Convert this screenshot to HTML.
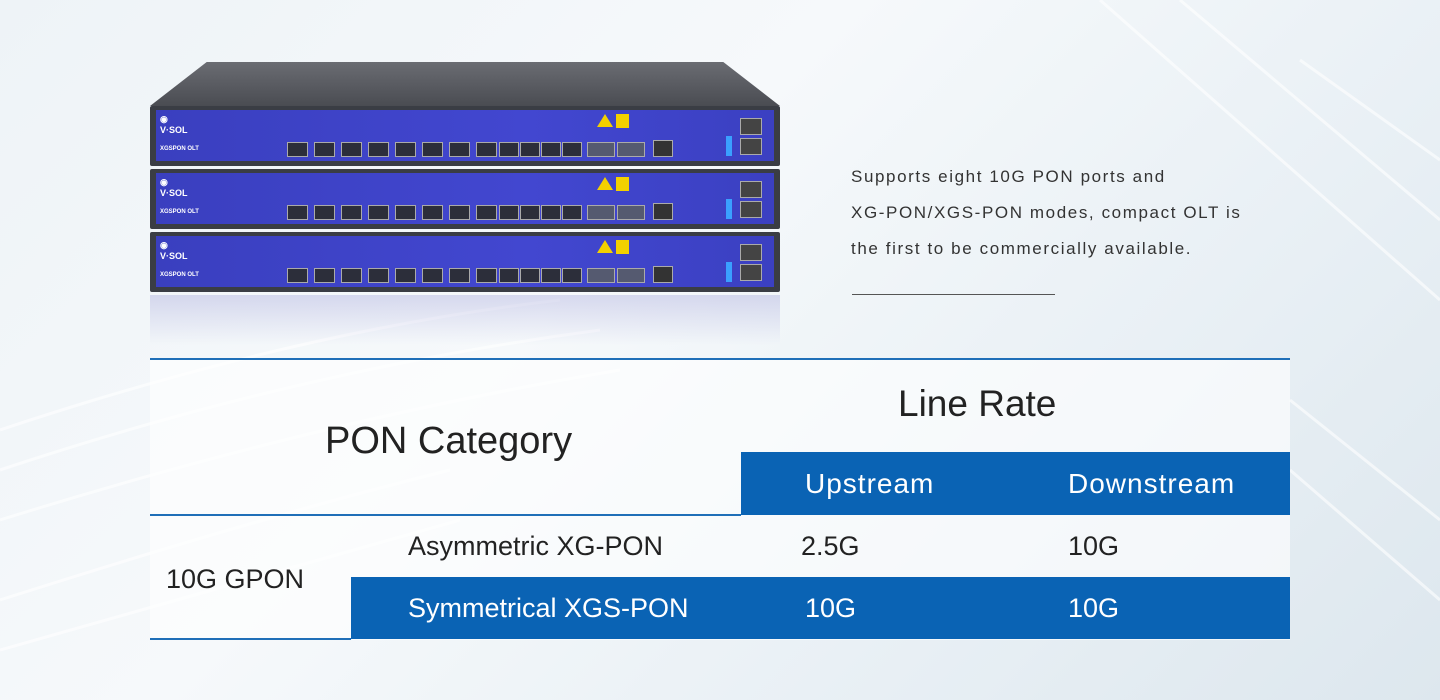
<!DOCTYPE html>
<html><head><meta charset="utf-8"><style>
*{margin:0;padding:0;box-sizing:border-box}
body{width:1440px;height:700px;overflow:hidden;position:relative;font-family:"Liberation Sans",sans-serif;
background:linear-gradient(135deg,#eef3f7 0%,#f6f9fb 40%,#e9f0f5 70%,#dde7ee 100%);}
.abs{position:absolute}
.unit{position:absolute;left:150px;width:630px;height:60px;background:#3a3d44;border-radius:2px}
.face{position:absolute;left:6px;top:4px;right:6px;bottom:5px;background:linear-gradient(90deg,#3a3fbf,#4247d0 60%,#3b40c2);}
.t{position:absolute;color:#222;white-space:nowrap}
.w{color:#fff}
</style></head><body>
<svg class="abs" style="left:0;top:0" width="1440" height="700">
<g fill="none" stroke="#ffffff" stroke-opacity="0.6" stroke-width="3">
<path d="M0 430 Q300 330 560 300"/><path d="M0 470 Q300 370 600 330"/><path d="M0 520 Q320 420 620 370"/>
<path d="M0 600 Q250 520 450 470"/><path d="M0 650 Q250 580 460 520"/>
<path d="M1100 0 L1440 300"/><path d="M1180 0 L1440 220"/><path d="M1300 60 L1440 160"/>
<path d="M1290 400 L1440 520"/><path d="M1290 470 L1440 600"/>
</g></svg>
<div class="abs" style="left:150px;top:62px;width:630px;height:44px;background:linear-gradient(#6a6c72,#4a4c52);clip-path:polygon(9% 0,91% 0,100% 100%,0 100%)"></div>
<div class="abs" style="left:150px;top:295px;width:630px;height:50px;background:linear-gradient(rgba(120,120,200,0.25),rgba(255,255,255,0))"></div>
<div class="unit" style="top:106px"><div class="face"></div></div>
<div class="unit" style="top:169px"><div class="face"></div></div>
<div class="unit" style="top:232px"><div class="face"></div></div>
<div id="ports"></div>
<script>
var h='';[106,169,232].forEach(function(y){
h+='<div class="t w" style="left:160px;top:'+(y+8)+'px;font-size:9px;font-weight:bold">◉<br>V·SOL</div>';
h+='<div class="t w" style="left:160px;top:'+(y+40)+'px;font-size:6px;font-weight:bold">XGSPON OLT</div>';
for(var i=0;i<8;i++)h+='<div class="abs" style="left:'+(287+i*27)+'px;top:'+(y+36)+'px;width:21px;height:15px;background:#2c2e3a;border:1px solid #aaa"></div>';
for(var i=0;i<4;i++)h+='<div class="abs" style="left:'+(499+i*21)+'px;top:'+(y+36)+'px;width:20px;height:15px;background:#2c2e3a;border:1px solid #aaa"></div>';
for(var i=0;i<2;i++)h+='<div class="abs" style="left:'+(587+i*30)+'px;top:'+(y+36)+'px;width:28px;height:15px;background:#555a70;border:1px solid #aaa"></div>';
h+='<div class="abs" style="left:597px;top:'+(y+8)+'px;width:0;height:0;border-left:8px solid transparent;border-right:8px solid transparent;border-bottom:13px solid #f3d000"></div>';
h+='<div class="abs" style="left:616px;top:'+(y+8)+'px;width:13px;height:14px;background:#f3d000"></div>';
h+='<div class="abs" style="left:653px;top:'+(y+34)+'px;width:20px;height:17px;background:#333;border:1px solid #aaa"></div>';
h+='<div class="abs" style="left:726px;top:'+(y+30)+'px;width:6px;height:20px;background:#3aa0ff"></div>';
h+='<div class="abs" style="left:740px;top:'+(y+12)+'px;width:22px;height:17px;background:#444;border:1px solid #aaa"></div>';
h+='<div class="abs" style="left:740px;top:'+(y+32)+'px;width:22px;height:17px;background:#444;border:1px solid #aaa"></div>';
});document.getElementById('ports').innerHTML=h;
</script>
<div class="t" style="left:851px;top:159px;font-size:17px;line-height:36px;color:#333;letter-spacing:1.6px">Supports eight 10G PON ports and<br>XG-PON/XGS-PON modes, compact OLT is<br>the first to be commercially available.</div>
<div class="abs" style="left:852px;top:294px;width:203px;height:1px;background:#555"></div>
<div class="abs" style="left:150px;top:359px;width:1140px;height:281px;background:rgba(255,255,255,0.6)"></div>
<div class="abs" style="left:150px;top:358px;width:1140px;height:2px;background:#1f6fb8"></div>
<div class="abs" style="left:741px;top:452px;width:549px;height:63px;background:#0a63b4"></div>
<div class="abs" style="left:150px;top:514px;width:591px;height:2px;background:#1f6fb8"></div>
<div class="abs" style="left:351px;top:577px;width:939px;height:62px;background:#0a63b4"></div>
<div class="abs" style="left:150px;top:638px;width:201px;height:2px;background:#1f6fb8"></div>
<div class="t" style="left:325px;top:420px;font-size:38px">PON Category</div>
<div class="t" style="left:898px;top:383px;font-size:37px">Line Rate</div>
<div class="t w" style="left:805px;top:468px;font-size:28px;letter-spacing:1px">Upstream</div>
<div class="t w" style="left:1068px;top:468px;font-size:28px;letter-spacing:1px">Downstream</div>
<div class="t" style="left:408px;top:531px;font-size:27px">Asymmetric XG-PON</div>
<div class="t" style="left:801px;top:531px;font-size:27px">2.5G</div>
<div class="t" style="left:1068px;top:531px;font-size:27px">10G</div>
<div class="t" style="left:166px;top:564px;font-size:27px">10G GPON</div>
<div class="t w" style="left:408px;top:593px;font-size:27px">Symmetrical XGS-PON</div>
<div class="t w" style="left:805px;top:593px;font-size:27px">10G</div>
<div class="t w" style="left:1068px;top:593px;font-size:27px">10G</div>
</body></html>
